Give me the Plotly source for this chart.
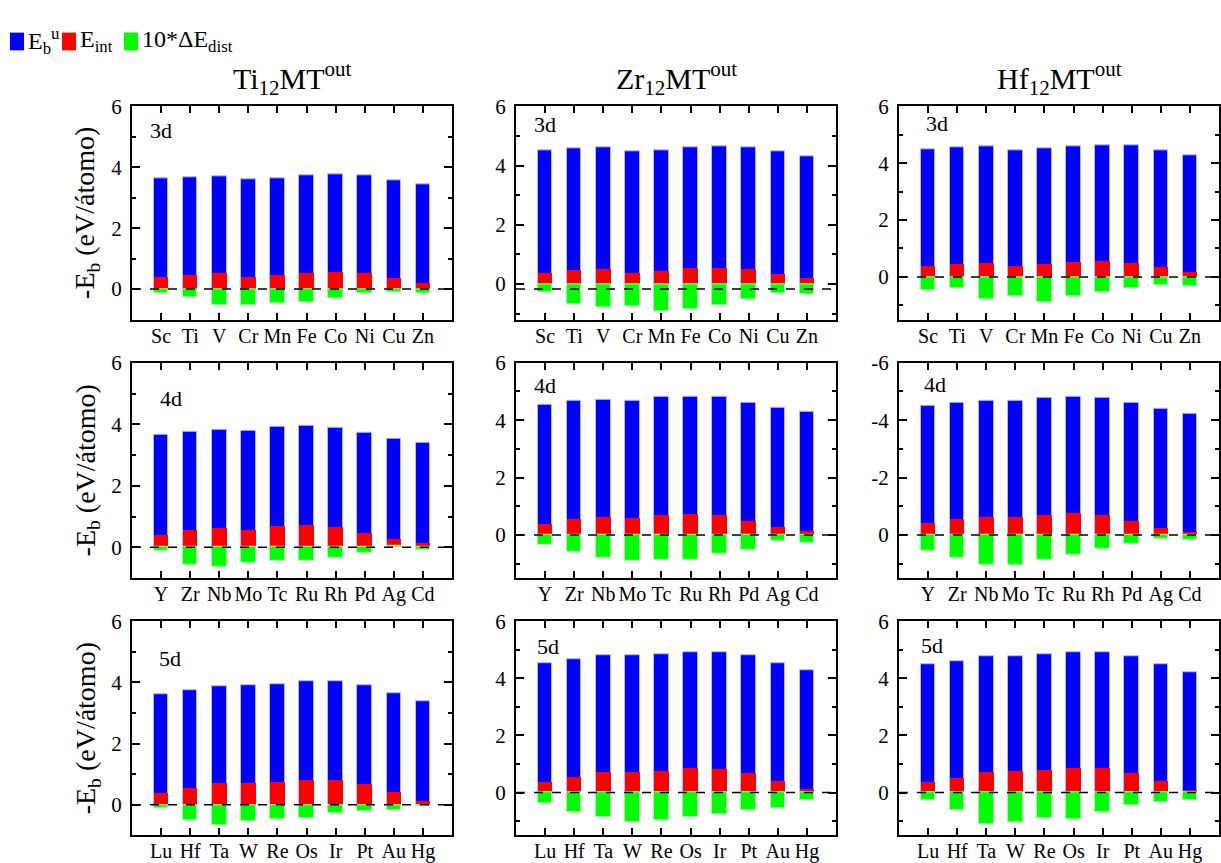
import plotly.graph_objects as go
from plotly.subplots import make_subplots

# Element labels for each transition series
elems_3d = ["Sc", "Ti", "V", "Cr", "Mn", "Fe", "Co", "Ni", "Cu", "Zn"]
elems_4d = ["Y", "Zr", "Nb", "Mo", "Tc", "Ru", "Rh", "Pd", "Ag", "Cd"]
elems_5d = ["Lu", "Hf", "Ta", "W", "Re", "Os", "Ir", "Pt", "Au", "Hg"]

# Ti12MT(out)
ti_3d_u = [3.63, 3.66, 3.71, 3.59, 3.64, 3.73, 3.77, 3.74, 3.58, 3.43]
ti_3d_int = [0.38, 0.44, 0.51, 0.39, 0.44, 0.52, 0.55, 0.51, 0.36, 0.19]
ti_3d_dist = [-0.13, -0.27, -0.53, -0.53, -0.48, -0.45, -0.30, -0.13, -0.12, -0.13]

ti_4d_u = [3.65, 3.76, 3.83, 3.80, 3.91, 3.96, 3.90, 3.73, 3.53, 3.40]
ti_4d_int = [0.39, 0.56, 0.62, 0.58, 0.70, 0.73, 0.68, 0.48, 0.26, 0.14]
ti_4d_dist = [-0.11, -0.58, -0.65, -0.51, -0.44, -0.45, -0.34, -0.19, 0.04, -0.07]

ti_5d_u = [3.63, 3.75, 3.89, 3.90, 3.95, 4.04, 4.04, 3.90, 3.64, 3.38]
ti_5d_int = [0.37, 0.55, 0.71, 0.72, 0.74, 0.82, 0.81, 0.68, 0.42, 0.12]
ti_5d_dist = [-0.10, -0.51, -0.67, -0.55, -0.46, -0.45, -0.29, -0.22, -0.19, -0.04]

# Zr12MT(out)
zr_3d_u = [4.53, 4.59, 4.61, 4.49, 4.51, 4.62, 4.64, 4.63, 4.49, 4.32]
zr_3d_int = [0.37, 0.47, 0.51, 0.37, 0.42, 0.52, 0.53, 0.51, 0.34, 0.18]
zr_3d_dist = [-0.27, -0.69, -0.78, -0.74, -0.91, -0.85, -0.72, -0.53, -0.33, -0.34]

zr_4d_u = [4.54, 4.66, 4.72, 4.69, 4.80, 4.83, 4.80, 4.62, 4.42, 4.30]
zr_4d_int = [0.39, 0.56, 0.63, 0.61, 0.72, 0.74, 0.69, 0.49, 0.29, 0.15]
zr_4d_dist = [-0.33, -0.58, -0.81, -0.90, -0.88, -0.85, -0.65, -0.50, -0.19, -0.26]

zr_5d_u = [4.54, 4.66, 4.80, 4.81, 4.84, 4.93, 4.93, 4.80, 4.54, 4.28]
zr_5d_int = [0.38, 0.55, 0.71, 0.73, 0.76, 0.84, 0.83, 0.69, 0.41, 0.13]
zr_5d_dist = [-0.37, -0.68, -0.86, -1.03, -0.95, -0.86, -0.75, -0.60, -0.54, -0.25]

# Hf12MT(out)
hf_3d_u = [4.49, 4.55, 4.59, 4.46, 4.51, 4.61, 4.63, 4.62, 4.45, 4.28]
hf_3d_int = [0.38, 0.44, 0.49, 0.38, 0.44, 0.52, 0.54, 0.49, 0.33, 0.15]
hf_3d_dist = [-0.46, -0.40, -0.80, -0.67, -0.91, -0.68, -0.55, -0.40, -0.29, -0.34]

hf_4d_u = [4.50, 4.62, 4.68, 4.66, 4.79, 4.83, 4.78, 4.60, 4.38, 4.24]
hf_4d_int = [0.41, 0.55, 0.64, 0.62, 0.72, 0.76, 0.69, 0.48, 0.25, 0.11]
hf_4d_dist = [-0.56, -0.79, -1.05, -1.03, -0.87, -0.70, -0.48, -0.31, -0.15, -0.18]

hf_5d_u = [4.49, 4.60, 4.76, 4.79, 4.83, 4.92, 4.91, 4.79, 4.50, 4.22]
hf_5d_int = [0.38, 0.52, 0.72, 0.76, 0.77, 0.86, 0.84, 0.69, 0.40, 0.09]
hf_5d_dist = [-0.28, -0.63, -1.09, -1.05, -0.91, -0.92, -0.69, -0.45, -0.34, -0.26]

column_titles = ["Ti<sub>12</sub>MT<sup>out</sup>",
                 "Zr<sub>12</sub>MT<sup>out</sup>",
                 "Hf<sub>12</sub>MT<sup>out</sup>"]
row_labels = ["3d", "4d", "5d"]
row_elems = [elems_3d, elems_4d, elems_5d]

# panels in row-major order: (u, int, dist, y-range, dashed reference level)
panels = [
    (ti_3d_u, ti_3d_int, ti_3d_dist, [-1.0, 6], 0.0),
    (zr_3d_u, zr_3d_int, zr_3d_dist, [-1.2, 6], -0.17),
    (hf_3d_u, hf_3d_int, hf_3d_dist, [-1.5, 6], 0.0),
    (ti_4d_u, ti_4d_int, ti_4d_dist, [-1.0, 6], 0.0),
    (zr_4d_u, zr_4d_int, zr_4d_dist, [-1.5, 6], 0.0),
    (hf_4d_u, hf_4d_int, hf_4d_dist, [-1.5, 6], 0.0),
    (ti_5d_u, ti_5d_int, ti_5d_dist, [-1.0, 6], 0.0),
    (zr_5d_u, zr_5d_int, zr_5d_dist, [-1.5, 6], 0.0),
    (hf_5d_u, hf_5d_int, hf_5d_dist, [-1.5, 6], 0.0),
]
# y tick text per panel (the Hf 4d frame carries negated labels)
y_tickvals = [0, 2, 4, 6]
y_ticktext_default = ["0", "2", "4", "6"]
y_ticktext_neg = ["0", "-2", "-4", "-6"]

# offsets of the "3d/4d/5d" label from the panel's top-left corner, in px
label_offsets = [(16, 25), (16, 18), (25, 17),
                 (26, 36), (16, 23), (23, 22),
                 (25, 38), (19, 26), (20, 25)]

BLUE, RED, GREEN = "#0000ff", "#ff0000", "#00ff00"
FONT = "Liberation Serif"
W, H = 1221, 863
col_px = [(132, 452), (516, 836), (899, 1219)]
row_px = [(96, 313), (357, 576), (620, 838)]

fig = make_subplots(rows=3, cols=3)

for i, (u, eint, dist, yr, ref) in enumerate(panels):
    r, c = divmod(i, 3)
    cats = row_elems[r]
    fig.add_trace(go.Bar(x=cats, y=u, width=0.5, showlegend=False,
                         marker=dict(color=BLUE, line=dict(color="#b8b8ff", width=1))),
                  row=r + 1, col=c + 1)
    fig.add_trace(go.Bar(x=cats, y=eint, width=0.5, showlegend=False,
                         marker=dict(color=RED, line=dict(width=0))),
                  row=r + 1, col=c + 1)
    fig.add_trace(go.Bar(x=cats, y=dist, width=0.5, showlegend=False,
                         marker=dict(color=GREEN, line=dict(color="#a0ffa0", width=1))),
                  row=r + 1, col=c + 1)
    fig.add_hline(y=ref, row=r + 1, col=c + 1,
                  line=dict(color="black", width=1.5, dash="dash"))

    n = i + 1
    xa = "xaxis" if n == 1 else f"xaxis{n}"
    ya = "yaxis" if n == 1 else f"yaxis{n}"
    x0, x1 = col_px[c]
    y0, y1 = row_px[r]
    fig.layout[xa].update(
        domain=[x0 / W, x1 / W], range=[-1, 10], type="category",
        showline=True, linewidth=2, linecolor="black", mirror="ticks",
        ticks="inside", ticklen=7, tickwidth=1.5, tickcolor="black",
        showgrid=False, zeroline=False, ticklabelstandoff=-3,
        tickfont=dict(family=FONT, size=20, color="black"))
    fig.layout[ya].update(
        domain=[1 - y1 / H, 1 - y0 / H], range=yr,
        tickvals=y_tickvals,
        ticktext=y_ticktext_neg if i == 5 else y_ticktext_default,
        showline=True, linewidth=2, linecolor="black", mirror="ticks",
        ticks="inside", ticklen=8, tickwidth=1.5, tickcolor="black",
        minor=dict(tickvals=[-1, 1, 3, 5], ticks="inside", ticklen=4,
                   tickwidth=1.5, tickcolor="black", showgrid=False),
        showgrid=False, zeroline=False, ticklabelstandoff=4,
        tickfont=dict(family=FONT, size=21, color="black"))

    dx, dy = label_offsets[i]
    fig.add_annotation(text=row_labels[r], xref="paper", yref="paper",
                       x=(x0 + dx) / W, y=1 - (y0 + dy) / H,
                       xanchor="left", yanchor="middle", showarrow=False,
                       font=dict(family=FONT, size=22, color="black"))

# column titles
for c, title in enumerate(column_titles):
    x0, x1 = col_px[c]
    fig.add_annotation(text=title, xref="paper", yref="paper",
                       x=(x0 + x1) / 2 / W, y=1 - 68 / H,
                       xanchor="center", yanchor="middle", showarrow=False,
                       font=dict(family=FONT, size=30, color="black"))

# y-axis titles on the left column
for r in range(3):
    y0, y1 = row_px[r]
    fig.add_annotation(text="-E<sub>b</sub> (eV/átomo)", xref="paper", yref="paper",
                       x=87 / W, y=1 - (y0 + y1) / 2 / H, textangle=-90,
                       xanchor="center", yanchor="middle", showarrow=False,
                       font=dict(family=FONT, size=28, color="black"))

# legend: coloured swatches followed by labels
legend_items = [("E<sub>b</sub><sup>u</sup>", BLUE, 10),
                ("E<sub>int</sub>", RED, 62),
                ("10*ΔE<sub>dist</sub>", GREEN, 124)]
for text, color, lx in legend_items:
    fig.add_shape(type="rect", xref="paper", yref="paper",
                  x0=lx / W, x1=(lx + 14) / W, y0=1 - 39 / H, y1=1 - 21 / H,
                  fillcolor=color, line=dict(width=0))
    fig.add_annotation(text=text, xref="paper", yref="paper",
                       x=(lx + 16) / W, y=1 - 30 / H,
                       xanchor="left", yanchor="middle", showarrow=False,
                       font=dict(family=FONT, size=24, color="black"))

fig.update_layout(
    width=W, height=H, barmode="overlay", bargap=0,
    margin=dict(l=0, r=0, t=0, b=0),
    paper_bgcolor="white", plot_bgcolor="white",
    showlegend=False,
)

fig.write_html("out.html")
